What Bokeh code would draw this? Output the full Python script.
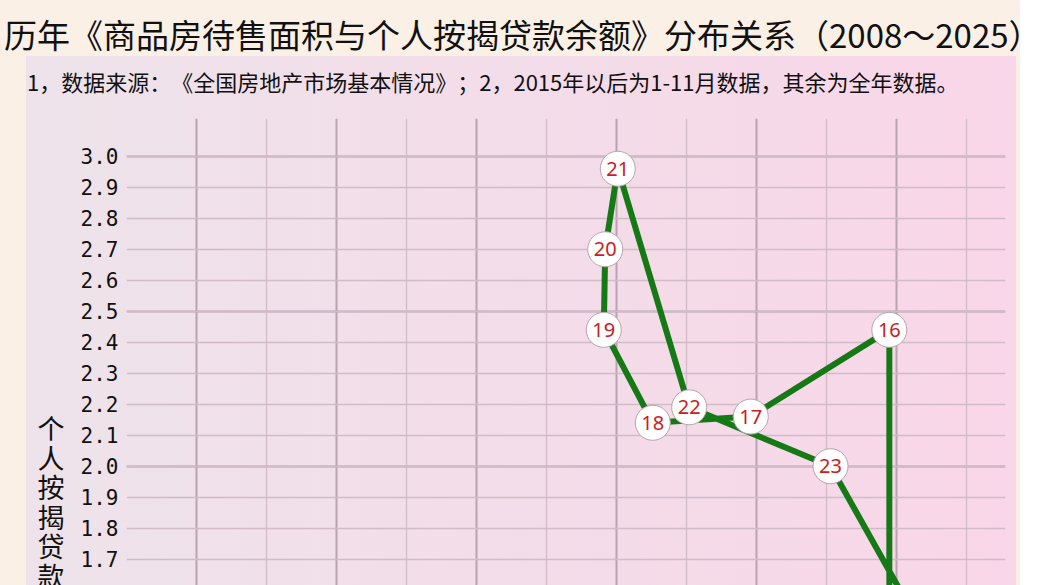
from bokeh.plotting import figure
from bokeh.models import ColumnDataSource, FixedTicker, Grid, Div, PrintfTickFormatter
from bokeh.layouts import column, row
from bokeh.core.properties import value
from bokeh.embed import file_html
from bokeh.resources import INLINE

# ---- data ----
years = ["15", "16", "17", "18", "19", "20", "21", "22", "23", "24"]
unsold_area = [6.95, 6.95, 5.96, 5.26, 4.91, 4.92, 5.01, 5.52, 6.53, 7.30]   # 商品房待售面积
mortgage = [1.46, 2.44, 2.16, 2.14, 2.44, 2.70, 2.96, 2.19, 2.00, 1.38]      # 个人按揭贷款

y_ticks = [1.6, 1.7, 1.8, 1.9, 2.0, 2.1, 2.2, 2.3, 2.4, 2.5, 2.6, 2.7, 2.8, 2.9, 3.0]
y_major = [2.0, 2.5, 3.0]
x_major = [2, 3, 4, 5, 6, 7]
x_minor = [1.5, 2.5, 3.5, 4.5, 5.5, 6.5, 7.5]

title_text = "历年《商品房待售面积与个人按揭贷款余额》分布关系（2008～2025）"
note_text = "1，数据来源：《全国房地产市场基本情况》；2，2015年以后为1-11月数据，其余为全年数据。"
ylabel_chars = ["个", "人", "按", "揭", "贷", "款"]

src = ColumnDataSource(dict(x=unsold_area, y=mortgage, label=years))

fig = figure(width=940, height=467, x_range=(1.5, 7.78), y_range=(1.615, 3.122),
             output_backend="svg", toolbar_location=None,
             min_border_left=50, min_border_right=11, min_border_top=0, min_border_bottom=0,
             border_fill_color=None, background_fill_color=None, outline_line_color=None,
             margin=(0, 0, 0, 0))

fig.xaxis.visible = False
yax = fig.yaxis[0]
yax.ticker = FixedTicker(ticks=y_ticks)
yax.formatter = PrintfTickFormatter(format="%.1f")
yax.axis_line_color = None
yax.major_tick_line_color = None
yax.minor_tick_line_color = None
yax.major_tick_out = 0
yax.major_tick_in = 0
yax.minor_tick_out = 0
yax.major_label_standoff = 8
yax.major_label_text_font = "DejaVu Sans Mono"
yax.major_label_text_font_size = "21px"
yax.major_label_text_color = "#111111"

# grids
fig.xgrid[0].ticker = FixedTicker(ticks=x_major)
fig.xgrid[0].grid_line_color = "#b9a3b1"
fig.xgrid[0].grid_line_width = 2
fig.ygrid[0].ticker = FixedTicker(ticks=y_major)
fig.ygrid[0].grid_line_color = "#b9a3b1"
fig.ygrid[0].grid_line_width = 2
gx = Grid(dimension=0, ticker=FixedTicker(ticks=x_minor), grid_line_color="#d0bbc7", grid_line_width=1.3)
gy = Grid(dimension=1, ticker=FixedTicker(ticks=y_ticks), grid_line_color="#d0bbc7", grid_line_width=1.3)
fig.add_layout(gx)
fig.add_layout(gy)

fig.line("x", "y", source=src, line_color="#157a15", line_width=6)
fig.scatter("x", "y", source=src, size=35, fill_color="white", line_color="#b5a5ad", line_width=1)
fig.text("x", "y", text="label", source=src, text_align="center", text_baseline="middle",
         text_color="#c8201e", text_font_size="20px", text_font=value("Noto Sans"))

title_div = Div(text='<div style="font-family:\'Noto Sans CJK SC\';font-size:33px;line-height:48px;'
                     'margin-top:10px;margin-left:4px;white-space:nowrap;color:#111;'
                     'text-spacing-trim:space-all">' + title_text + '</div>',
                width=1020, height=56, margin=(0, 0, 0, 0))

note_div = Div(text='<div style="font-family:\'Noto Sans CJK SC\';font-size:22px;line-height:50px;'
                    'margin-top:0px;margin-left:1px;white-space:nowrap;color:#111;'
                    'text-spacing-trim:space-all">' + note_text + '</div>',
               width=990, height=62, margin=(0, 0, 0, 0))

ylab_div = Div(text='<div style="font-family:\'Noto Sans CJK SC\';font-size:27px;line-height:29.6px;'
                    'text-align:center;width:50px;height:467px;overflow:hidden;padding-top:295px;'
                    'box-sizing:border-box;color:#111">' + "<br>".join(ylabel_chars) + '</div>',
               width=50, height=467, margin=(0, 0, 0, 0))

panel = column(note_div, row(ylab_div, fig, spacing=0), spacing=0, width=990, margin=(0, 0, 0, 26),
               styles={"background": "linear-gradient(to right, #eee3ea, #f9d6e8)"})

p = column(title_div, panel, spacing=0, styles={"background-color": "#faf0e6"})

open("out.html", "w").write(file_html(p, INLINE))
